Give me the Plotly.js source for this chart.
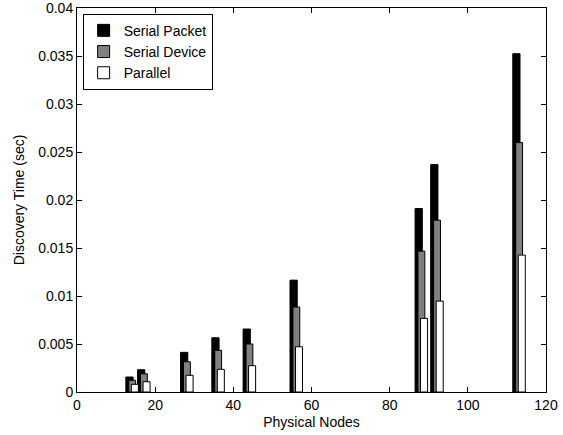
<!DOCTYPE html>
<html>
<head>
<meta charset="utf-8">
<script src="https://cdn.plot.ly/plotly-3.0.1.min.js"></script>
<style>html,body{margin:0;padding:0;background:#fff;}#chart{width:563px;height:435px;}</style>
</head>
<body>
<div id="chart"></div>
<script>
// Data
const nodes = [14, 17, 28, 36, 44, 56, 88, 92, 113];
const serialPacket = [0.00156, 0.00232, 0.00413, 0.00565, 0.00656, 0.01165, 0.01911, 0.02369, 0.03524];
const serialDevice = [0.00122, 0.00190, 0.00315, 0.00434, 0.00500, 0.00885, 0.01467, 0.01790, 0.02598];
const parallel     = [0.00080, 0.00107, 0.00174, 0.00236, 0.00274, 0.00471, 0.00767, 0.00947, 0.01426];
const seriesNames = ["Serial Packet", "Serial Device", "Parallel"];

const FONT = "Liberation Sans, Arial, Helvetica, sans-serif";

function barTrace(name, y, fill, lineColor, offset, width) {
  return {
    type: "bar", name: name, x: nodes, y: y,
    offset: offset, width: width,
    marker: {color: fill, line: {color: lineColor, width: 1}}
  };
}

const data = [
  barTrace(seriesNames[0], serialPacket, "#000000", "#000000", -1.5, 1.85),
  barTrace(seriesNames[1], serialDevice, "#808080", "#000000", -0.75, 1.75),
  barTrace(seriesNames[2], parallel, "#ffffff", "#000000", -0.1, 1.8)
];

const axisCommon = {
  showline: true, linecolor: "#000", linewidth: 1, mirror: "ticks",
  ticks: "inside", ticklen: 5, tickcolor: "#000", tickwidth: 1,
  showgrid: false, zeroline: false, ticklabeloverflow: "allow",
  tickfont: {family: FONT, size: 14, color: "#000"}
};

const layout = {
  width: 563, height: 435,
  margin: {l: 77, r: 17, t: 8, b: 43},
  paper_bgcolor: "#fff", plot_bgcolor: "#fff",
  barmode: "overlay",
  showlegend: true,
  legend: {
    x: 0.012, y: 0.985, xanchor: "left", yanchor: "top",
    bordercolor: "#000", borderwidth: 1, bgcolor: "#fff",
    font: {family: FONT, size: 14, color: "#000"},
    tracegroupgap: 0, itemwidth: 30
  },
  xaxis: Object.assign({}, axisCommon, {
    range: [0, 120], dtick: 20, tick0: 0,
    title: {text: "Physical Nodes", font: {family: FONT, size: 14, color: "#000"}, standoff: 5}
  }),
  yaxis: Object.assign({}, axisCommon, {
    range: [0, 0.04], dtick: 0.005, tick0: 0,
    title: {text: "Discovery Time (sec)", font: {family: FONT, size: 14, color: "#000"}, standoff: 10}
  }),
  font: {family: FONT, color: "#000"}
};

Plotly.newPlot("chart", data, layout, {staticPlot: true, displayModeBar: false});
</script>
</body>
</html>
